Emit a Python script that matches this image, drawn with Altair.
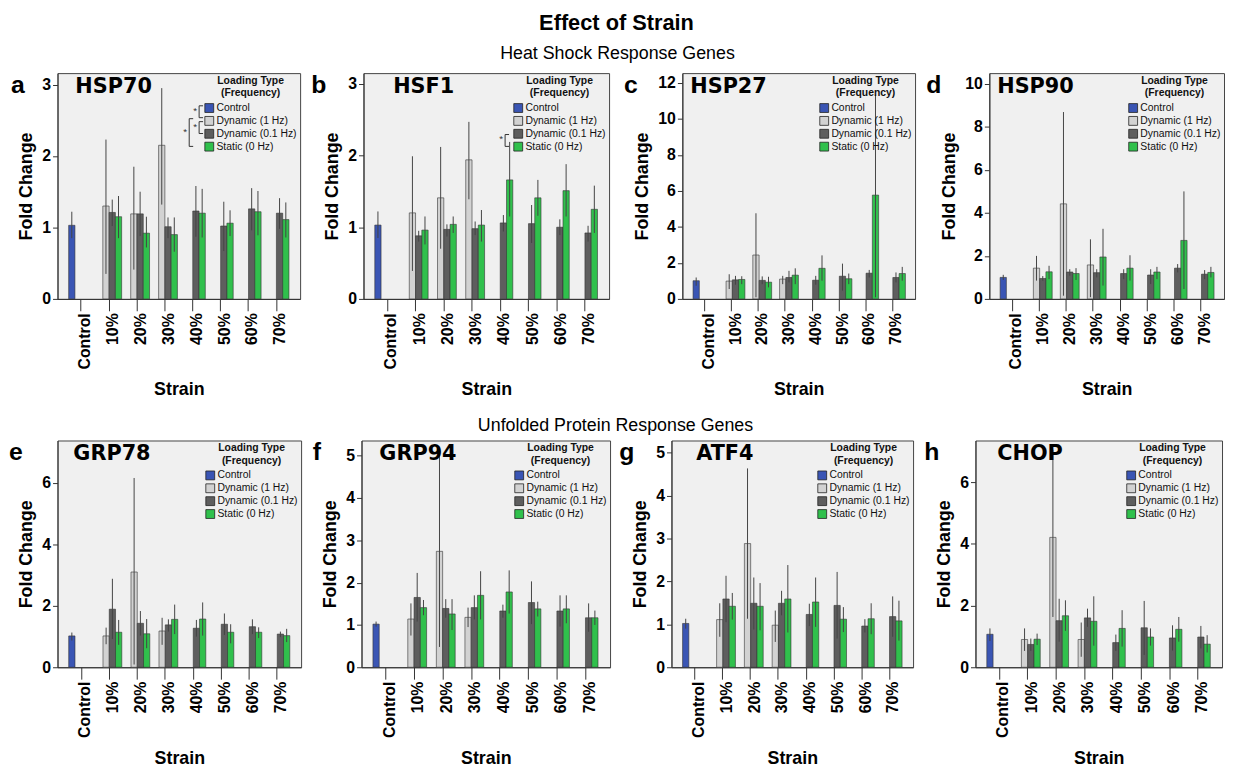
import altair as alt
import pandas as pd

CATS = ["Control", "10%", "20%", "30%", "40%", "50%", "60%", "70%"]
STRAINS = CATS[1:]
TYPES = ["Control", "Dynamic (1 Hz)", "Dynamic (0.1 Hz)", "Static (0 Hz)"]
COLORS = ["#3a55b4", "#d2d2d2", "#5e5e5e", "#30c04c"]

# each entry: (mean, lower error, upper error); None = not measured
HSP70_CTRL = (1.03, 0.85, 1.22)
HSP70_D1 = [(1.30, 0.35, 2.23), (1.19, 0.41, 1.85), (2.15, 1.32, 2.95), None, None, None, None]
HSP70_D01 = [(1.21, 1.02, 1.39), (1.19, 0.88, 1.50), (1.01, 0.85, 1.14), (1.23, 0.87, 1.58), (1.02, 0.67, 1.36), (1.26, 0.96, 1.55), (1.20, 0.98, 1.41)]
HSP70_ST = [(1.15, 0.85, 1.44), (0.92, 0.72, 1.15), (0.90, 0.66, 1.14), (1.20, 0.86, 1.54), (1.06, 0.88, 1.24), (1.22, 0.89, 1.51), (1.11, 0.86, 1.35)]

HSF1_CTRL = (1.03, 0.85, 1.22)
HSF1_D1 = [(1.20, 0.39, 1.99), (1.41, 0.70, 2.12), (1.94, 1.39, 2.47), None, None, None, None]
HSF1_D01 = [(0.88, 0.80, 0.95), (0.97, 0.87, 1.04), (0.98, 0.89, 1.08), (1.06, 0.94, 1.17), (1.05, 0.78, 1.31), (1.00, 0.89, 1.11), (0.92, 0.80, 1.02)]
HSF1_ST = [(0.96, 0.76, 1.15), (1.04, 0.92, 1.15), (1.03, 0.80, 1.24), (1.66, 1.15, 2.19), (1.41, 1.16, 1.66), (1.51, 1.15, 1.88), (1.25, 0.92, 1.58)]

HSP27_CTRL = (1.01, 0.73, 1.19)
HSP27_D1 = [(0.99, 0.55, 1.37), (2.44, 0.09, 4.76), (1.10, 0.82, 1.28), None, None, None, None]
HSP27_D01 = [(1.06, 0.79, 1.28), (1.03, 0.82, 1.25), (1.19, 0.92, 1.56), (1.04, 0.79, 1.28), (1.26, 0.46, 1.96), (1.43, 1.19, 1.61), (1.19, 0.92, 1.47)]
HSP27_ST = [(1.08, 0.82, 1.26), (0.93, 0.64, 1.23), (1.32, 0.82, 1.70), (1.70, 1.01, 2.42), (1.12, 0.82, 1.41), (5.77, 0.09, 11.36), (1.41, 1.01, 1.78)]

HSP90_CTRL = (1.00, 0.88, 1.12)
HSP90_D1 = [(1.43, 0.85, 2.00), (4.42, 0.15, 8.69), (1.58, 0.08, 2.77), None, None, None, None]
HSP90_D01 = [(0.95, 0.85, 1.06), (1.25, 1.08, 1.38), (1.22, 1.00, 1.38), (1.18, 0.92, 1.38), (1.11, 0.69, 1.38), (1.43, 1.23, 1.62), (1.15, 0.92, 1.34)]
HSP90_ST = [(1.26, 0.92, 1.54), (1.18, 0.88, 1.43), (1.95, 0.62, 3.26), (1.43, 0.85, 2.03), (1.25, 0.92, 1.49), (2.72, 0.46, 5.00), (1.23, 1.00, 1.49)]

GRP78_CTRL = (1.02, 0.87, 1.13)
GRP78_D1 = [(1.02, 0.75, 1.29), (3.10, 0.09, 6.16), (1.18, 0.73, 1.61), None, None, None, None]
GRP78_D01 = [(1.89, 0.92, 2.88), (1.43, 1.03, 1.83), (1.38, 1.16, 1.56), (1.27, 1.00, 1.54), (1.40, 1.05, 1.75), (1.32, 1.08, 1.56), (1.08, 0.98, 1.16)]
GRP78_ST = [(1.14, 0.73, 1.54), (1.09, 0.62, 1.57), (1.56, 1.08, 2.04), (1.57, 1.03, 2.11), (1.14, 0.78, 1.40), (1.14, 0.95, 1.30), (1.03, 0.82, 1.25)]

GRP94_CTRL = (1.02, 0.96, 1.08)
GRP94_D1 = [(1.14, 0.75, 1.51), (2.74, 0.48, 5.14), (1.18, 0.95, 1.41), None, None, None, None]
GRP94_D01 = [(1.65, 1.08, 2.23), (1.39, 1.17, 1.61), (1.41, 1.13, 1.70), (1.33, 1.17, 1.48), (1.53, 1.02, 2.03), (1.33, 0.96, 1.70), (1.17, 0.84, 1.51)]
GRP94_ST = [(1.41, 1.23, 1.59), (1.26, 0.88, 1.61), (1.70, 1.13, 2.27), (1.78, 1.27, 2.29), (1.38, 1.20, 1.55), (1.38, 1.04, 1.70), (1.17, 1.00, 1.34)]

ATF4_CTRL = (1.02, 0.90, 1.13)
ATF4_D1 = [(1.11, 0.71, 1.49), (2.88, 1.13, 4.63), (0.98, 0.59, 1.32), None, None, None, None]
ATF4_D01 = [(1.59, 1.05, 2.13), (1.49, 0.88, 2.09), (1.49, 1.21, 1.78), (1.23, 0.96, 1.48), (1.44, 0.67, 2.22), (0.96, 0.81, 1.12), (1.18, 0.71, 1.65)]
ATF4_ST = [(1.42, 1.11, 1.73), (1.42, 0.86, 1.96), (1.59, 0.81, 2.38), (1.52, 0.94, 2.09), (1.12, 0.82, 1.40), (1.13, 0.77, 1.49), (1.08, 0.62, 1.55)]

CHOP_CTRL = (1.07, 0.85, 1.26)
CHOP_D1 = [(0.90, 0.53, 1.26), (4.21, 1.63, 7.05), (0.90, 0.34, 1.45), None, None, None, None]
CHOP_D01 = [(0.74, 0.53, 0.93), (1.51, 0.83, 2.22), (1.60, 1.31, 1.90), (0.80, 0.53, 1.06), (1.28, 0.40, 2.15), (0.95, 0.54, 1.36), (0.98, 0.61, 1.34)]
CHOP_ST = [(0.91, 0.72, 1.09), (1.67, 1.18, 2.17), (1.49, 0.70, 2.30), (1.26, 0.67, 1.85), (0.98, 0.70, 1.26), (1.23, 0.83, 1.63), (0.75, 0.48, 1.04)]

# significance brackets beside the legend: (first legend row, last legend row, inset)
HSP70_SIG = [(0, 1, 0), (1, 2, 0), (1, 3, 1)]
HSF1_SIG = [(2, 3, 0)]

FONT = "Liberation Sans"


def sig_layers(sig):
    """Brackets with asterisks that join legend entries (annotation, pixel placed)."""
    if not sig:
        return []
    row_y = [34, 47, 60, 73]
    segs, stars = [], []
    for a, b, inset in sig:
        xv = 143 - 10 * inset
        y1 = row_y[a] + (2 if (a > 0 and inset == 0) else -1)
        y2 = row_y[b] - (2 if inset == 0 and b < 3 and a == 0 else -1)
        segs += [dict(x=xv, x2=xv, y=y1, y2=y2),
                 dict(x=xv, x2=xv + 4, y=y1, y2=y1),
                 dict(x=xv, x2=xv + 4, y=y2, y2=y2)]
        stars.append(dict(x=xv - 4, y=(y1 + y2) / 2 - 1, s="*"))
    sdf = pd.DataFrame(segs)
    tdf = pd.DataFrame(stars)
    r = alt.Chart(sdf).mark_rule(color="#333", strokeWidth=1).encode(
        x=alt.X("x:Q", scale=None), x2="x2:Q", y=alt.Y("y:Q", scale=None), y2="y2:Q")
    t = alt.Chart(tdf).mark_text(color="#333", fontSize=10, font=FONT, baseline="middle").encode(
        x=alt.X("x:Q", scale=None), y=alt.Y("y:Q", scale=None), text="s:N")
    return [r, t]


def panel(letter, gene, ctrl, d1, d01, st, ymax, ticks, width, height, name_x, letter_x,
          left_room, sig=None):
    rows = [dict(strain="Control", type=TYPES[0], mean=ctrl[0], lo=ctrl[1], hi=ctrl[2])]
    for series, t in ((d1, TYPES[1]), (d01, TYPES[2]), (st, TYPES[3])):
        for s, v in zip(STRAINS, series):
            if v is not None:
                rows.append(dict(strain=s, type=t, mean=v[0], lo=v[1], hi=v[2]))
    df = pd.DataFrame(rows)

    x = alt.X("strain:N", sort=CATS,
              scale=alt.Scale(domain=CATS, paddingInner=0.1, paddingOuter=0.4),
              axis=alt.Axis(title="Strain", labelAngle=270, labelFontSize=16, labelFontWeight="bold",
                            labelFont=FONT, labelColor="black", tickSize=12, labelPadding=2,
                            labelOffset=4, titleFontSize=18, titleFontWeight="bold", titleFont=FONT,
                            titleColor="black", titlePadding=12, domainColor="#333", tickColor="#333"))
    xo = alt.XOffset("type:N", sort=TYPES, scale=alt.Scale(domain=TYPES))
    yscale = alt.Scale(domain=[0, ymax], nice=False, zero=True)
    yaxis = alt.Axis(title="Fold Change", values=ticks, format="d", labelFontSize=16,
                     labelFontWeight="bold", labelFont=FONT, labelColor="black", tickSize=5,
                     labelPadding=2, titleFontSize=18, titleFontWeight="bold", titleFont=FONT,
                     titleColor="black", titlePadding=6, grid=False, domainColor="#333",
                     tickColor="#333")
    legend = alt.Legend(title=["Loading Type", "(Frequency)"], orient="top-right", offset=3,
                        titleFontSize=10.5, titleFontWeight="bold", titleFont=FONT,
                        titleAnchor="middle", titleAlign="center", titleColor="#111",
                        labelFontSize=10.5, labelFont=FONT, labelColor="#111",
                        symbolType="square", symbolSize=80, symbolStrokeColor="#222",
                        symbolStrokeWidth=0.8, symbolOpacity=1, rowPadding=0, labelOffset=2,
                        titlePadding=4, padding=0)

    base = alt.Chart(df)
    bars = base.mark_bar(stroke="#333", strokeWidth=0.6, opacity=1).encode(
        x=x, xOffset=xo,
        y=alt.Y("mean:Q", scale=yscale, axis=yaxis),
        color=alt.Color("type:N", scale=alt.Scale(domain=TYPES, range=COLORS), legend=legend),
    )
    err = base.mark_rule(color="#444", strokeWidth=1).encode(
        x=x, xOffset=xo,
        y=alt.Y("lo:Q", scale=yscale, axis=yaxis),
        y2="hi:Q",
    )
    name = alt.Chart(pd.DataFrame({"g": [gene]})).mark_text(
        font="DejaVu Sans", fontSize=21, fontWeight="bold", align="left", baseline="middle",
        color="black").encode(x=alt.value(name_x), y=alt.value(14), text="g:N")
    let = alt.Chart(pd.DataFrame({"l": [letter]})).mark_text(
        font=FONT, fontSize=25, fontWeight="bold", align="center", baseline="middle",
        color="black").encode(x=alt.value(letter_x), y=alt.value(12), text="l:N")
    # invisible anchor that fixes how much room the panel takes on its left
    anchor = alt.Chart(pd.DataFrame({"a": [0]})).mark_rule(opacity=0, strokeWidth=0.01).encode(
        x=alt.value(-left_room), y=alt.value(0), y2=alt.value(1))
    layers = [bars, err, name, let, anchor] + sig_layers(sig)
    return alt.layer(*layers).properties(width=width, height=height)


pa = panel("a", "HSP70", HSP70_CTRL, HSP70_D1, HSP70_D01, HSP70_ST, 3.16, [0, 1, 2, 3], 245, 228, 18, -40, 47, HSP70_SIG)
pb = panel("b", "HSF1", HSF1_CTRL, HSF1_D1, HSF1_D01, HSF1_ST, 3.15, [0, 1, 2, 3], 248, 228, 30, -45, 62, HSF1_SIG)
pc = panel("c", "HSP27", HSP27_CTRL, HSP27_D1, HSP27_D01, HSP27_ST, 12.55, [0, 2, 4, 6, 8, 10, 12], 235, 228, 8, -52, 72)
pd_ = panel("d", "HSP90", HSP90_CTRL, HSP90_D1, HSP90_D01, HSP90_ST, 10.5, [0, 2, 4, 6, 8, 10], 237, 228, 8, -56, 73)
pe = panel("e", "GRP78", GRP78_CTRL, GRP78_D1, GRP78_D01, GRP78_ST, 7.38, [0, 2, 4, 6], 246, 229, 16, -42, 49)
pf = panel("f", "GRP94", GRP94_CTRL, GRP94_D1, GRP94_D01, GRP94_ST, 5.36, [0, 1, 2, 3, 4, 5], 251, 229, 18, -45, 59)
pg = panel("g", "ATF4", ATF4_CTRL, ATF4_D1, ATF4_D01, ATF4_ST, 5.28, [0, 1, 2, 3, 4, 5], 244, 229, 25, -45, 60)
ph = panel("h", "CHOP", CHOP_CTRL, CHOP_D1, CHOP_D01, CHOP_ST, 7.35, [0, 2, 4, 6], 249, 229, 22, -44, 61)

row1 = alt.hconcat(
    pa, pb, pc, pd_, spacing=0,
    title=alt.TitleParams("Heat Shock Response Genes", fontSize=18, fontWeight="normal",
                          font=FONT, anchor="middle", offset=10, color="black"),
).resolve_scale(color="independent")

row2 = alt.hconcat(
    pe, pf, pg, ph, spacing=0,
    title=alt.TitleParams("Unfolded Protein Response Genes", fontSize=18, fontWeight="normal",
                          font=FONT, anchor="middle", offset=5, color="black"),
).resolve_scale(color="independent")

chart = alt.vconcat(
    row1, row2, spacing=17,
    title=alt.TitleParams("Effect of Strain", fontSize=22, fontWeight="bold", font=FONT,
                          anchor="middle", offset=10, color="black"),
).resolve_scale(color="independent").properties(
    padding={"left": 0, "top": 0, "right": 0, "bottom": 0}
).configure_view(fill="#f0f0f0", stroke="#444", strokeWidth=1)

chart.save("out.html", embed_options={"renderer": "svg", "actions": False})
